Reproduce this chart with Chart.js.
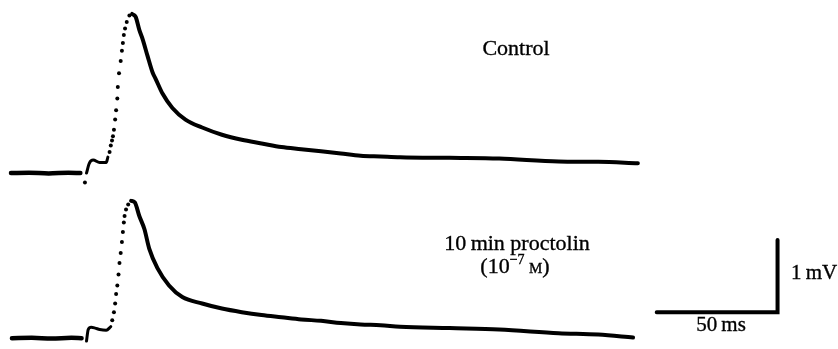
<!DOCTYPE html>
<html>
<head>
<meta charset="utf-8">
<script src="https://cdn.jsdelivr.net/npm/chart.js@4.4.1/dist/chart.umd.min.js"></script>
<style>
  html, body { margin: 0; padding: 0; background: #fff; }
  canvas { display: block; }
</style>
</head>
<body>
<canvas id="epsp" width="838" height="349"></canvas>
<script>
// time in ms from the stimulus, potential in mV from resting level

// control sweep
const controlBaseline = [[-29.9,0],[-22.5,0.005],[-14.3,-0.005],[-6.1,0.005],[-1.2,0]];
const controlArtifact = [[0.7,-0.13]];
const controlOnset = [[1.35,0],[2.5,0.135],[4.1,0.18],[6.8,0.145],[9.5,0.145],[10.2,0.22]];
const controlRise = [[10.9,0.29],[11.4,0.38],[11.9,0.45],[12.3,0.51],[12.7,0.6],[13.2,0.74],[13.6,0.87],
  [14.1,1.03],[14.3,1.19],[14.8,1.38],[15.5,1.55],[16.0,1.69],[16.4,1.8],[16.8,1.91],[17.3,2.0],[18.0,2.09],[19.1,2.18]];
const controlDecay = [[20.2,2.2],[21.7,2.16],[23.2,1.98],[24.6,1.85],[26.6,1.62],[28.7,1.39],[30.0,1.3],[32.8,1.1],
  [36.9,0.9],[42.3,0.74],[49.2,0.63],[57.4,0.53],[65.6,0.46],[73.8,0.41],[82.0,0.36],[90.2,0.33],[98.4,0.3],
  [106.6,0.27],[114.8,0.24],[123,0.23],[131.1,0.22],[151.6,0.21],[172.1,0.2],[196.7,0.16],[213.1,0.155],[229.5,0.135]];

// after 10 min proctolin
const proctolinBaseline = [[-29.5,0],[-21.3,0.005],[-13.1,-0.005],[-4.9,0.005],[-0.7,0]];
const proctolinOnset = [[1.35,-0.04],[2.05,0.12],[3.3,0.15],[4.9,0.14],[6.8,0.12],[9.5,0.11],[11.4,0.16]];
const proctolinRise = [[12.0,0.25],[12.7,0.36],[13.2,0.48],[13.6,0.61],[14.1,0.73],[14.6,0.88],[15.0,1.04],
  [15.5,1.18],[16.0,1.33],[16.4,1.47],[16.8,1.6],[17.1,1.69],[17.7,1.78],[18.6,1.85]];
const proctolinDecay = [[19.8,1.9],[21.3,1.88],[23.2,1.69],[25.3,1.51],[27.3,1.24],[30.7,0.97],[35.5,0.73],
  [41.0,0.57],[49.2,0.48],[57.4,0.41],[65.6,0.36],[73.8,0.32],[82.0,0.29],[90.2,0.26],[98.4,0.24],[106.6,0.21],
  [114.8,0.19],[123,0.18],[131.1,0.16],[151.6,0.14],[172.1,0.12],[196.7,0.07],[213.1,0.05],[227.5,0.01]];

// calibration bar
const scaleMs = 50;
const scaleMv = 1;

// layout
const TRACE_GAP = 2.284;          // mV between the two sweeps on the page
const BAR_CORNER = [287.3, -1.926];

function pts(arr, shift) {
    return arr.map(p => ({x: p[0], y: p[1] - shift}));
}

function lineSet(arr, shift, width) {
    return {
        data: pts(arr, shift),
        showLine: true,
        borderColor: '#000',
        borderWidth: width,
        borderCapStyle: 'round',
        borderJoinStyle: 'round',
        pointRadius: 0,
        cubicInterpolationMode: 'monotone'
    };
}

function dotSet(arr, shift) {
    return {
        data: pts(arr, shift),
        showLine: false,
        pointRadius: 2,
        pointBorderWidth: 0,
        pointBackgroundColor: '#000'
    };
}

const barData = [
    [BAR_CORNER[0] - scaleMs, BAR_CORNER[1]],
    [BAR_CORNER[0], BAR_CORNER[1]],
    [BAR_CORNER[0], BAR_CORNER[1] + scaleMv]
];
const barSet = lineSet(barData, 0, 4);
barSet.cubicInterpolationMode = 'default';
barSet.tension = 0;
barSet.borderJoinStyle = 'miter';

const labels = {
    id: 'labels',
    afterDraw(chart) {
        const c = chart.ctx;
        c.save();
        c.fillStyle = '#000';
        c.strokeStyle = '#000';
        c.lineWidth = 0.35;
        c.textBaseline = 'alphabetic';

        function put(text, size, x, y) {
            c.font = size + 'px "Liberation Serif"';
            c.fillText(text, x, y);
            c.strokeText(text, x, y);
        }

        c.textAlign = 'center';
        put('Control', 22, 516, 55);
        put('10\u2009min proctolin', 22, 517, 250);

        // (10^-7 M) with superscript exponent and small-cap unit
        const parts = [['(10', 22, 0], ['\u22127', 14, -9], ['\u2009', 22, 0], ['M', 15, 0], [')', 22, 0]];
        let w = 0;
        parts.forEach(p => { c.font = p[1] + 'px "Liberation Serif"'; w += c.measureText(p[0]).width; });
        let x = 515 - w / 2;
        c.textAlign = 'left';
        parts.forEach(p => {
            put(p[0], p[1], x, 273 + p[2]);
            c.font = p[1] + 'px "Liberation Serif"';
            x += c.measureText(p[0]).width;
        });

        put('1\u2009mV', 21, 791, 279);
        c.textAlign = 'center';
        put('50\u2009ms', 21, 721, 331);
        c.restore();
    }
};

const ctx = document.getElementById('epsp');

const myChart = new Chart(ctx, {
    type: 'scatter',
    data: {
        datasets: [
            lineSet(controlBaseline, 0, 4.5),
            dotSet(controlArtifact, 0),
            lineSet(controlOnset, 0, 3),
            dotSet(controlRise, 0),
            lineSet(controlDecay, 0, 4),
            lineSet(proctolinBaseline, TRACE_GAP, 4.5),
            lineSet(proctolinOnset, TRACE_GAP, 3),
            dotSet(proctolinRise, TRACE_GAP),
            lineSet(proctolinDecay, TRACE_GAP, 4),
            barSet
        ]
    },
    options: {
        responsive: false,
        animation: false,
        layout: { padding: 0 },
        plugins: {
            legend: { display: false },
            tooltip: { enabled: false }
        },
        scales: {
            x: { type: 'linear', min: -32.79, max: 310.66, display: false },
            y: { type: 'linear', min: -2.378, max: 2.338, display: false }
        }
    },
    plugins: [labels]
});
</script>
</body>
</html>
